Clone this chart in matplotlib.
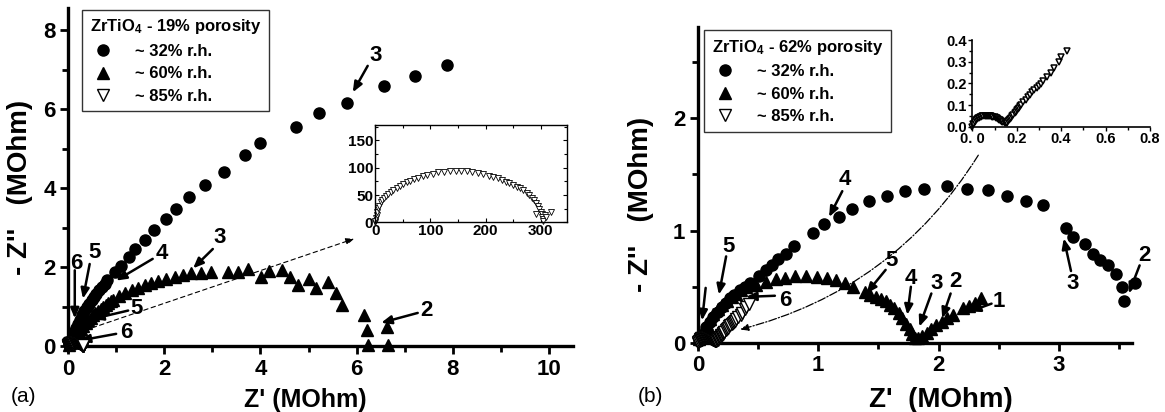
import matplotlib
matplotlib.use('Agg')
import matplotlib.pyplot as plt
from matplotlib.ticker import MultipleLocator, FixedLocator

plt.rcParams['font.family'] = ['Liberation Sans', 'DejaVu Sans']
plt.rcParams['font.weight'] = 'bold'
plt.rcParams['mathtext.fontset'] = 'custom'
plt.rcParams['mathtext.rm'] = 'Liberation Sans:bold'
plt.rcParams['mathtext.default'] = 'rm'

# ---- data (a): 19% porosity, MOhm ----
a_rh32_x = [0.02, 0.06, 0.10, 0.13, 0.17, 0.21, 0.25, 0.30, 0.34, 0.39, 0.44, 0.49, 0.54, 0.59,
            0.64, 0.70, 0.76, 0.82, 0.97, 1.11, 1.26, 1.40, 1.61, 1.78, 2.04, 2.24, 2.51, 2.85,
            3.25, 3.67, 4.00, 4.73, 5.21, 5.79, 6.56, 7.21, 7.88]
a_rh32_y = [0.05, 0.15, 0.27, 0.36, 0.47, 0.57, 0.67, 0.78, 0.88, 0.98, 1.07, 1.16, 1.25, 1.33,
            1.42, 1.50, 1.58, 1.67, 1.87, 2.03, 2.25, 2.45, 2.70, 2.94, 3.21, 3.48, 3.77, 4.08,
            4.42, 4.85, 5.15, 5.54, 5.91, 6.16, 6.58, 6.84, 7.11]

a_rh60_x = [0.02, 0.04, 0.07, 0.10, 0.14, 0.18, 0.23, 0.27, 0.32, 0.37, 0.42, 0.47, 0.52, 0.57,
            0.63, 0.68, 0.73, 0.78, 0.84, 0.89, 0.94, 1.06, 1.18, 1.32, 1.46, 1.60, 1.73, 1.87,
            2.04, 2.22, 2.39, 2.56, 2.77, 2.98, 3.33, 3.53, 3.74, 4.01, 4.17, 4.45, 4.62, 4.79,
            5.00, 5.16, 5.41, 5.57, 5.69, 6.15, 6.21, 6.63, 6.23, 6.66]
a_rh60_y = [0.03, 0.07, 0.11, 0.16, 0.22, 0.29, 0.36, 0.44, 0.51, 0.59, 0.66, 0.72, 0.78, 0.84,
            0.89, 0.95, 1.00, 1.05, 1.10, 1.14, 1.18, 1.27, 1.35, 1.42, 1.48, 1.54, 1.61, 1.65,
            1.71, 1.75, 1.80, 1.84, 1.85, 1.88, 1.87, 1.87, 1.96, 1.76, 1.90, 1.93, 1.75, 1.54,
            1.70, 1.48, 1.62, 1.34, 1.05, 0.80, 0.41, 0.48, 0.03, 0.03]

# 85% r.h. semicircle (kOhm) shown in inset
a_rh85_x = [0.0, 0.6, 1.2, 3.0, 4.2, 6.0, 7.8, 10.2, 13.3, 16.3, 19.9, 24.1, 28.3, 33.1, 39.2,
            45.2, 51.2, 57.2, 63.3, 70.5, 78.3, 86.1, 94.6, 104.2, 114.5, 124.7, 135.5, 145.8,
            155.4, 165.7, 175.9, 185.5, 195.8, 206.0, 213.9, 221.7, 228.9, 236.1, 242.8, 250.0,
            256.0, 262.0, 268.1, 274.1, 278.9, 283.1, 287.3, 291.0, 294.0, 297.0, 299.4, 301.2,
            303.0, 304.2, 304.8, 292.0, 307.0, 310.0, 317.5]
a_rh85_y = [0.0, 2.4, 7.3, 13.4, 19.5, 25.6, 30.5, 36.6, 40.9, 45.1, 48.8, 52.4, 56.1, 59.1, 63.4,
            67.1, 69.5, 73.2, 75.6, 78.7, 81.7, 84.1, 86.6, 89.0, 91.5, 92.7, 93.9, 94.5,
            94.5, 93.9, 92.7, 90.9, 88.4, 85.4, 82.9, 80.5, 77.4, 74.4, 71.3, 68.3,
            65.2, 62.2, 58.5, 54.3, 50.0, 45.1, 40.2, 34.8, 29.9, 24.4, 19.5, 14.6,
            10.4, 6.1, 2.4, 15.0, 13.0, 10.0, 19.5]

# ---- data (b): 62% porosity, MOhm ----
b_rh32_x = [0.01, 0.03, 0.07, 0.10, 0.13, 0.17, 0.20, 0.23, 0.265, 0.30, 0.35, 0.39, 0.43, 0.51,
            0.57, 0.62, 0.67, 0.73, 0.80, 0.96, 1.05, 1.17, 1.28, 1.42, 1.57, 1.72, 1.88, 2.07,
            2.24, 2.41, 2.57, 2.73, 2.87, 3.06, 3.12, 3.22, 3.28, 3.34, 3.41, 3.47, 3.52, 3.54, 3.63]
b_rh32_y = [0.02, 0.056, 0.145, 0.19, 0.23, 0.28, 0.32, 0.36, 0.40, 0.43, 0.47, 0.50, 0.53, 0.60,
            0.65, 0.69, 0.75, 0.79, 0.86, 0.98, 1.06, 1.12, 1.19, 1.26, 1.31, 1.35, 1.37, 1.40,
            1.37, 1.36, 1.31, 1.26, 1.23, 1.02, 0.94, 0.88, 0.79, 0.74, 0.69, 0.61, 0.50, 0.37, 0.53]

b_rh60_x = [0.01, 0.03, 0.05, 0.08, 0.10, 0.13, 0.17, 0.20, 0.24, 0.28, 0.32, 0.36, 0.40, 0.44,
            0.485, 0.57, 0.65, 0.72, 0.81, 0.90, 0.99, 1.07, 1.15, 1.22, 1.29, 1.39, 1.43, 1.48,
            1.52, 1.56, 1.60, 1.63, 1.67, 1.70, 1.73, 1.76, 1.78, 1.80, 1.83, 1.86, 1.90, 1.94,
            1.98, 2.03, 2.07, 2.12, 2.20, 2.25, 2.30, 2.35]
b_rh60_y = [0.035, 0.08, 0.12, 0.17, 0.21, 0.255, 0.30, 0.335, 0.37, 0.405, 0.44, 0.47, 0.50, 0.52,
            0.52, 0.545, 0.57, 0.58, 0.595, 0.595, 0.59, 0.58, 0.56, 0.53, 0.50, 0.45, 0.43, 0.41,
            0.39, 0.37, 0.34, 0.31, 0.27, 0.22, 0.17, 0.12, 0.08, 0.04, 0.04, 0.06, 0.09, 0.12,
            0.16, 0.19, 0.22, 0.25, 0.31, 0.33, 0.36, 0.40]

b_rh85_x = [0.0, 0.005, 0.01, 0.015, 0.02, 0.025, 0.03, 0.035, 0.04, 0.045, 0.05, 0.055, 0.06,
            0.065, 0.07, 0.075, 0.08, 0.085, 0.09, 0.095, 0.10, 0.105, 0.11, 0.115, 0.12, 0.125,
            0.13, 0.135, 0.14, 0.145, 0.15, 0.155, 0.16, 0.165, 0.17, 0.175, 0.18, 0.185, 0.19,
            0.195, 0.20, 0.205, 0.21, 0.215, 0.22, 0.23, 0.24, 0.25, 0.26, 0.27, 0.28, 0.29,
            0.30, 0.31, 0.32, 0.335, 0.355, 0.37, 0.39, 0.40, 0.425]
b_rh85_y = [0.0, 0.012, 0.022, 0.029, 0.034, 0.038, 0.042, 0.045, 0.047, 0.049, 0.050, 0.051, 0.051,
            0.051, 0.051, 0.051, 0.050, 0.049, 0.047, 0.045, 0.043, 0.041, 0.038, 0.035, 0.032, 0.029,
            0.026, 0.023, 0.020, 0.018, 0.017, 0.019, 0.024, 0.029, 0.035, 0.041, 0.048, 0.055, 0.062,
            0.068, 0.075, 0.081, 0.088, 0.094, 0.100, 0.112, 0.124, 0.136, 0.148, 0.158, 0.168, 0.178,
            0.188, 0.198, 0.210, 0.228, 0.250, 0.270, 0.300, 0.322, 0.350]

labels = ['~ 32% r.h.', '~ 60% r.h.', '~ 85% r.h.']

fig = plt.figure(figsize=(11.65, 4.12), dpi=100)


def style_main(ax):
    for s in ['top', 'right']:
        ax.spines[s].set_visible(False)
    for s in ['left', 'bottom']:
        ax.spines[s].set_linewidth(2.4)
    ax.tick_params(which='major', direction='out', length=6, width=2, labelsize=16, pad=3)
    ax.tick_params(which='minor', direction='out', length=4, width=2)
    for lab in ax.get_xticklabels() + ax.get_yticklabels():
        lab.set_fontweight('bold')


def plot_series(ax, x32, y32, x60, y60, x85, y85, ms=8):
    ax.plot(x32, y32, 'o', color='k', ms=ms, label=labels[0], clip_on=False, zorder=3)
    ax.plot(x60, y60, '^', color='k', ms=ms, label=labels[1], clip_on=False, zorder=3)
    ax.plot(x85, y85, 'v', mfc='white', mec='k', mew=1.0, ms=ms, label=labels[2],
            clip_on=False, zorder=4)


def arrow(ax, txt, xy, xytext, tpos):
    ax.annotate('', xy=xy, xytext=xytext,
                arrowprops=dict(arrowstyle='-|>,head_length=0.6,head_width=0.25',
                                color='k', lw=1.8, shrinkA=0, shrinkB=0))
    if txt:
        ax.text(tpos[0], tpos[1], txt, fontsize=16, fontweight='bold', ha='center', va='center')


def legend(ax, title, anchor):
    leg = ax.legend(title=title, loc='upper left', bbox_to_anchor=anchor, fontsize=12,
                    title_fontsize=12, frameon=True, fancybox=False, edgecolor='k',
                    handletextpad=1.1, borderpad=0.45, labelspacing=0.45, handlelength=1.6,
                    borderaxespad=0, alignment='left', markerscale=1.0)
    leg.get_frame().set_linewidth(1.0)
    leg.get_title().set_fontweight('bold')
    for t in leg.get_texts():
        t.set_fontweight('bold')
    return leg


# ---------------- panel (a) ----------------
ax1 = fig.add_axes([0.0584, 0.160, 0.4335, 0.820])
# 85% data in MOhm for the main panel
a85_x_m = [v / 1000 for v in a_rh85_x]
a85_y_m = [v / 1000 for v in a_rh85_y]
plot_series(ax1, a_rh32_x, a_rh32_y, a_rh60_x, a_rh60_y, a85_x_m, a85_y_m)
ax1.set_xlim(0, 10.5)
ax1.set_ylim(0, 8.56)
ax1.xaxis.set_major_locator(MultipleLocator(2))
ax1.xaxis.set_minor_locator(MultipleLocator(1))
ax1.yaxis.set_major_locator(MultipleLocator(2))
ax1.yaxis.set_minor_locator(MultipleLocator(1))
style_main(ax1)
ax1.set_xlabel("Z' (MOhm)", fontsize=18, fontweight='bold')
ax1.set_ylabel("- Z''   (MOhm)", fontsize=20, fontweight='bold')
ax1.xaxis.set_label_coords(0.47, -0.125)
ax1.yaxis.set_label_coords(-0.07, 0.47)
legend(ax1, 'ZrTiO$_4$ - 19% porosity', (0.028, 0.995))

arrow(ax1, '3', (5.92, 6.43), (6.23, 7.1), (6.40, 7.35))
arrow(ax1, '2', (6.51, 0.59), (7.27, 0.84), (7.45, 0.9))
arrow(ax1, '3', (2.60, 1.97), (3.01, 2.46), (3.15, 2.74))
arrow(ax1, '4', (1.0, 1.66), (1.76, 2.21), (1.94, 2.34))
arrow(ax1, '5', (0.31, 1.2), (0.45, 2.08), (0.55, 2.38))
arrow(ax1, '6', (0.14, 0.7), (0.14, 1.92), (0.17, 2.1))
arrow(ax1, '5', (0.52, 0.69), (1.25, 0.9), (1.42, 0.95))
arrow(ax1, '6', (0.24, 0.14), (1.0, 0.31), (1.21, 0.35))
ax1.annotate('', xy=(5.95, 2.72), xytext=(0.35, 0.4),
             arrowprops=dict(arrowstyle='-|>,head_length=0.5,head_width=0.2', color='k',
                             lw=0.8, linestyle=(0, (4, 3)), shrinkA=0, shrinkB=0))

# inset (a)
ins1 = fig.add_axes([0.322, 0.4604, 0.165, 0.236])
ins1.plot(a_rh85_x, a_rh85_y, 'v', mfc='white', mec='k', mew=0.6, ms=4.5, clip_on=False)
ins1.set_xlim(0, 348)
ins1.set_ylim(0, 178)
ins1.xaxis.set_major_locator(MultipleLocator(100))
ins1.xaxis.set_minor_locator(MultipleLocator(50))
ins1.yaxis.set_major_locator(MultipleLocator(50))
ins1.yaxis.set_minor_locator(MultipleLocator(25))
ins1.tick_params(which='both', direction='in', top=True, right=True, labelsize=11, pad=1.5)
ins1.tick_params(which='major', length=3, width=0.8)
ins1.tick_params(which='minor', length=2, width=0.8)
for s in ins1.spines.values():
    s.set_linewidth(1.0)
for lab in ins1.get_xticklabels() + ins1.get_yticklabels():
    lab.set_fontweight('bold')

# ---------------- panel (b) ----------------
ax2 = fig.add_axes([0.599, 0.1675, 0.373, 0.767])
plot_series(ax2, b_rh32_x, b_rh32_y, b_rh60_x, b_rh60_y, b_rh85_x, b_rh85_y)
ax2.set_xlim(0, 3.61)
ax2.set_ylim(0, 2.81)
ax2.xaxis.set_major_locator(MultipleLocator(1))
ax2.xaxis.set_minor_locator(MultipleLocator(0.5))
ax2.yaxis.set_major_locator(MultipleLocator(1))
ax2.yaxis.set_minor_locator(MultipleLocator(0.5))
style_main(ax2)
ax2.set_xlabel("Z'  (MOhm)", fontsize=20, fontweight='bold')
ax2.set_ylabel("- Z''   (MOhm)", fontsize=20, fontweight='bold')
ax2.xaxis.set_label_coords(0.56, -0.14)
ax2.yaxis.set_label_coords(-0.10, 0.44)
legend(ax2, 'ZrTiO$_4$ - 62% porosity', (0.015, 0.99))

arrow(ax2, '4', (1.09, 1.12), (1.20, 1.35), (1.22, 1.45))
arrow(ax2, '5', (0.175, 0.43), (0.235, 0.77), (0.255, 0.86))
arrow(ax2, '', (0.035, 0.20), (0.065, 0.49), (0, 0))
arrow(ax2, '6', (0.40, 0.41), (0.64, 0.42), (0.73, 0.38))
arrow(ax2, '5', (1.40, 0.44), (1.56, 0.65), (1.61, 0.73))
arrow(ax2, '4', (1.74, 0.25), (1.77, 0.50), (1.77, 0.57))
arrow(ax2, '3', (1.84, 0.145), (1.94, 0.44), (1.98, 0.53))
arrow(ax2, '2', (2.03, 0.22), (2.10, 0.44), (2.14, 0.55))
arrow(ax2, '1', (2.26, 0.28), (2.44, 0.35), (2.50, 0.37))
arrow(ax2, '3', (3.04, 0.93), (3.10, 0.64), (3.11, 0.53))
arrow(ax2, '2', (3.58, 0.44), (3.67, 0.69), (3.71, 0.78))
ax2.annotate('', xy=(0.35, 0.12), xytext=(2.33, 1.67),
             arrowprops=dict(arrowstyle='-|>,head_length=0.5,head_width=0.2', color='k',
                             lw=0.9, linestyle='-.', shrinkA=0, shrinkB=0,
                             connectionstyle='arc3,rad=-0.2'))

# inset (b)
ins2 = fig.add_axes([0.8346, 0.6925, 0.1525, 0.2104])
ins2.plot(b_rh85_x, b_rh85_y, 'v', mfc='white', mec='k', mew=1.1, ms=4, clip_on=False)
ins2.set_xlim(0, 0.8)
ins2.set_ylim(0, 0.4)
ins2.xaxis.set_major_locator(FixedLocator([0.0, 0.2, 0.4, 0.6, 0.8]))
ins2.xaxis.set_minor_locator(MultipleLocator(0.1))
ins2.yaxis.set_major_locator(FixedLocator([0.0, 0.1, 0.2, 0.3, 0.4]))
ins2.yaxis.set_minor_locator(MultipleLocator(0.05))
ins2.set_xticklabels(['0. 0', '0.2', '0.4', '0.6', '0.8'])
ins2.set_yticklabels(['0.0', '0.1', '0.2', '0.3', '0.4'])
for s in ['top', 'right']:
    ins2.spines[s].set_visible(False)
for s in ['left', 'bottom']:
    ins2.spines[s].set_linewidth(1.2)
ins2.tick_params(which='both', direction='out', labelsize=10.5, pad=1)
ins2.tick_params(which='major', length=3, width=1)
ins2.tick_params(which='minor', length=2, width=1)
for lab in ins2.get_xticklabels() + ins2.get_yticklabels():
    lab.set_fontweight('bold')

fig.text(0.009, 0.025, '(a)', fontsize=15, fontweight='normal')
fig.text(0.547, 0.025, '(b)', fontsize=15, fontweight='normal')

fig.savefig('out.png', dpi=100)
